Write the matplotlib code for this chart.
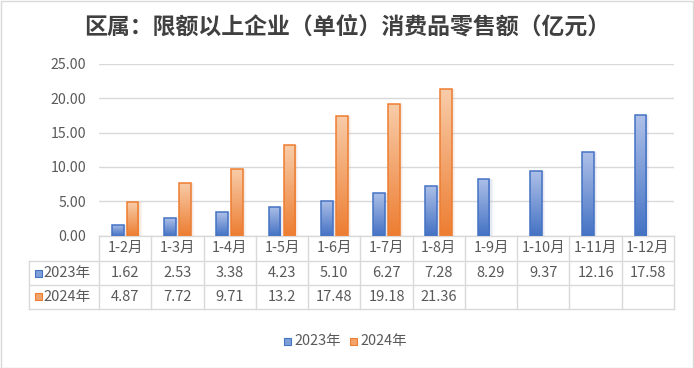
import numpy as np
import matplotlib
matplotlib.use("Agg")
import matplotlib.pyplot as plt
from matplotlib.colors import LinearSegmentedColormap
from matplotlib.patches import Rectangle
from matplotlib.transforms import blended_transform_factory
from matplotlib.lines import Line2D

plt.rcParams['font.family'] = ['Noto Sans CJK SC', 'DejaVu Sans']

# ---------------- data ----------------
title = "区属：限额以上企业（单位）消费品零售额（亿元）"
categories = ["1-2月", "1-3月", "1-4月", "1-5月", "1-6月", "1-7月",
              "1-8月", "1-9月", "1-10月", "1-11月", "1-12月"]
series_names = ["2023年", "2024年"]
vals_2023 = [1.62, 2.53, 3.38, 4.23, 5.10, 6.27, 7.28, 8.29, 9.37, 12.16, 17.58]
vals_2024 = [4.87, 7.72, 9.71, 13.2, 17.48, 19.18, 21.36]
labels_2023 = ["1.62", "2.53", "3.38", "4.23", "5.10", "6.27", "7.28", "8.29", "9.37", "12.16", "17.58"]
labels_2024 = ["4.87", "7.72", "9.71", "13.2", "17.48", "19.18", "21.36"]
yticks = [0, 5, 10, 15, 20, 25]

# colours
blue_top, blue_bot, blue_edge = "#aec0e8", "#4472c4", "#4472c4"
orng_top, orng_bot, orng_edge = "#f8cca9", "#ed7d31", "#ed7d31"
grey_txt = "#595959"
line_c = "#d9d9d9"

W, H = 694, 368
fig = plt.figure(figsize=(W / 100, H / 100), dpi=100)


def fx(px):
    return px / W


def fy(py):
    return 1 - py / H


# plot area (pixel measurements from the reference)
x_left, x_right = 99, 674
y_top, y_bot = 63.8, 235.7
ax = fig.add_axes([fx(x_left), fy(y_bot), fx(x_right) - fx(x_left), (y_bot - y_top) / H])

n = len(categories)
x = np.arange(n)
bw = 0.224
off = 0.143


def grad_bars(xs, heights, c_top, c_bot, c_edge, shadow):
    # soft shadow to the right of each bar
    for d, a in [(0.06, 0.10), (0.04, 0.10), (0.02, 0.10)]:
        ax.bar(np.asarray(xs) + d, heights, width=bw, color=shadow, alpha=a,
               linewidth=0, zorder=1.5)
    bars = ax.bar(xs, heights, width=bw, facecolor="none", edgecolor=c_edge,
                  linewidth=1.1, zorder=3)
    cmap = LinearSegmentedColormap.from_list("g", [c_bot, c_top])
    grad = np.linspace(0, 1, 256).reshape(-1, 1)
    for r in bars:
        x0, w, h = r.get_x(), r.get_width(), r.get_height()
        im = ax.imshow(grad, extent=[x0, x0 + w, 0, h], origin="lower",
                       aspect="auto", cmap=cmap, zorder=2)
        im.set_clip_path(r)
    return bars


grad_bars(x - off, vals_2023, blue_top, blue_bot, blue_edge, "#8090c0")
grad_bars(x[:len(vals_2024)] + off, vals_2024, orng_top, orng_bot, orng_edge, "#d0a080")

ax.set_xlim(-0.5, n - 0.5)
ax.set_ylim(0, 25)
ax.set_yticks(yticks)
ax.set_yticklabels([f"{v:.2f}" for v in yticks], fontsize=10.2, color=grey_txt)
ax.set_xticks([])
ax.tick_params(axis="y", length=0, pad=9)
ax.grid(axis="y", color=line_c, linewidth=1.0, zorder=0)
ax.set_axisbelow(True)
for s in ["top", "right", "left"]:
    ax.spines[s].set_visible(False)
ax.spines["bottom"].set_color(line_c)
ax.spines["bottom"].set_linewidth(1.0)
ax.patch.set_alpha(0)

# ---------------- data table below the axis ----------------
tr = blended_transform_factory(ax.transData, fig.transFigure)
rows_y = [235.7, 261, 285, 308.5]
tbl_left = 29
col_w = (x_right - x_left) / n

for yy in rows_y[1:]:
    fig.add_artist(Line2D([fx(tbl_left), fx(x_right)], [fy(yy), fy(yy)],
                          color=line_c, linewidth=1.0))
fig.add_artist(Line2D([fx(tbl_left), fx(tbl_left)], [fy(rows_y[1]), fy(rows_y[3])],
                      color=line_c, linewidth=1.0))
for k in range(n + 1):
    px = x_left + k * col_w
    fig.add_artist(Line2D([fx(px), fx(px)], [fy(rows_y[0]), fy(rows_y[3])],
                          color=line_c, linewidth=1.0))

ty = [(rows_y[i] + rows_y[i + 1]) / 2 for i in range(3)]
for i, c in enumerate(categories):
    ax.text(i, fy(ty[0]), c, transform=tr, ha="center", va="center",
            fontsize=10.4, color=grey_txt)
for i, v in enumerate(labels_2023):
    ax.text(i, fy(ty[1]), v, transform=tr, ha="center", va="center",
            fontsize=10.5, color=grey_txt)
for i, v in enumerate(labels_2024):
    ax.text(i, fy(ty[2]), v, transform=tr, ha="center", va="center",
            fontsize=10.5, color=grey_txt)

# row headers with legend keys
for yy, name, fc, ec in [(ty[1], series_names[0], "#7f9fd9", blue_edge),
                         (ty[2], series_names[1], "#f2a46a", orng_edge)]:
    fig.add_artist(Rectangle((fx(35), fy(yy + 3.5)), 7 / W, 7 / H,
                             facecolor=fc, edgecolor=ec, linewidth=0.8))
    fig.text(fx(43), fy(yy), name, ha="left", va="center",
             fontsize=10.5, color=grey_txt)

# ---------------- legend ----------------
ly = 341.5
for px, name, fc, ec in [(284, series_names[0], "#7f9fd9", blue_edge),
                         (350, series_names[1], "#f2a46a", orng_edge)]:
    fig.add_artist(Rectangle((fx(px), fy(ly + 3.5)), 7 / W, 7 / H,
                             facecolor=fc, edgecolor=ec, linewidth=0.8))
    fig.text(fx(px + 10), fy(ly), name, ha="left", va="center",
             fontsize=10.4, color=grey_txt)

# ---------------- title & frame ----------------
fig.text(0.5, fy(27), title, ha="center", va="center", fontsize=16.5,
         fontweight="bold", color="#404040")
fig.add_artist(Rectangle((0.5 / W, 0.5 / H), (W - 1.5) / W, (H - 1.5) / H,
                         facecolor="none", edgecolor="#d9d9d9", linewidth=1.0))

fig.savefig("out.png", dpi=100)
